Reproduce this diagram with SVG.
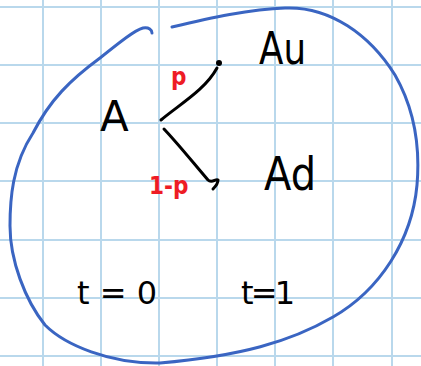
<svg xmlns="http://www.w3.org/2000/svg" width="421" height="366" viewBox="0 0 421 366">
<style>
.grid{stroke:#b9d8ec;stroke-width:2}
.ink{fill:#000;font-family:"DejaVu Sans","Liberation Sans",sans-serif}
.red{fill:#ee1c25;font-weight:bold;font-family:"DejaVu Sans Condensed","Liberation Sans",sans-serif}
.edge{stroke:#000;stroke-width:3;fill:none;stroke-linecap:round}
.loop{stroke:#3a65c2;stroke-width:3;fill:none;stroke-linecap:round}
</style>
<rect width="421" height="366" fill="#fff"/>
<g id="grid" class="grid">
<line x1="43" y1="0" x2="43" y2="366"/><line x1="101" y1="0" x2="101" y2="366"/><line x1="159" y1="0" x2="159" y2="366"/><line x1="217" y1="0" x2="217" y2="366"/><line x1="275" y1="0" x2="275" y2="366"/><line x1="333" y1="0" x2="333" y2="366"/><line x1="392" y1="0" x2="392" y2="366"/>
<line x1="0" y1="7" x2="421" y2="7"/><line x1="0" y1="65" x2="421" y2="65"/><line x1="0" y1="123" x2="421" y2="123"/><line x1="0" y1="181" x2="421" y2="181"/><line x1="0" y1="240" x2="421" y2="240"/><line x1="0" y1="298" x2="421" y2="298"/><line x1="0" y1="356" x2="421" y2="356"/>
</g>
<g id="boundary">
<path class="loop" d="M172 27 C210 18 250 9 285 8 C330 6 370 35 395 75 C415 110 420 150 417 185 C412 240 380 290 333 317 C290 342 240 356 160 363 C110 364 65 345 45 325 C25 300 10 260 10 226 C10 200 12 165 33 133 C50 100 70 80 100 58 C120 42 135 30 143 28 C149 27 152 30 152 33"/>
</g>
<g id="connectors">
<path class="edge" d="M161 120 C180 104 205 90 217 68"/>
<circle cx="219" cy="63" r="3" fill="#000"/>
<path class="edge" d="M164 129 C180 146 195 165 208 180 C212 184 216 178 218 180 C218 184 214 188 213 189"/>
</g>
<g id="node-A"><text class="ink" x="100" y="131" font-size="42">A</text></g>
<g id="node-Au"><text class="ink" x="259" y="64" font-size="44" textLength="47" lengthAdjust="spacingAndGlyphs">Au</text></g>
<g id="node-Ad"><text class="ink" x="264" y="190" font-size="46" textLength="52" lengthAdjust="spacingAndGlyphs">Ad</text></g>
<g id="label-p"><text class="red" x="171" y="85" font-size="24">p</text></g>
<g id="label-1mp"><text class="red" x="149" y="194" font-size="24">1-p</text></g>
<g id="t0"><text class="ink" x="77" y="304" font-size="32" textLength="80">t = 0</text></g>
<g id="t1"><text class="ink" x="241" y="304" font-size="32" textLength="54">t=1</text></g>
</svg>
